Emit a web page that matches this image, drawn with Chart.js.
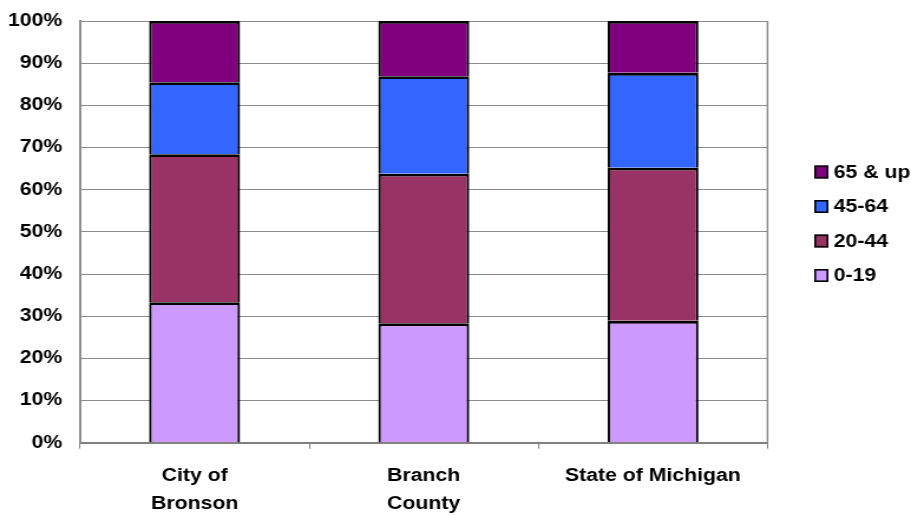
<!DOCTYPE html>
<html>
<head>
<meta charset="utf-8">
<script src="https://cdn.jsdelivr.net/npm/chart.js@4/dist/chart.umd.min.js"></script>
<style>
  html, body { margin: 0; padding: 0; background: #fff; overflow: hidden; width: 911px; height: 515px; }
  /* the chart is drawn on a 772px canvas and widened to the 911px page */
  #wrap { position: absolute; left: 0; top: 0; width: 772px; height: 515px;
          transform: scaleX(1.18005); transform-origin: 0 0; }
</style>
</head>
<body>
<div id="wrap"><canvas id="c" width="772" height="515"></canvas></div>
<script>
// Population share by age group (percent of total)
const categories = [['City of', 'Bronson'], ['Branch', 'County'], 'State of Michigan'];
const ageGroups = ['0-19', '20-44', '45-64', '65 & up'];
const age0to19 = [33.3, 28.3, 28.9];
const age20to44 = [35.1, 35.5, 36.3];
const age45to64 = [17.1, 23.1, 22.5];
const age65up = [14.5, 13.1, 12.3];
const yTickValues = [0, 10, 20, 30, 40, 50, 60, 70, 80, 90, 100];

const seriesValues = [age0to19, age20to44, age45to64, age65up];
const seriesColors = ['#CC99FF', '#993366', '#3366FF', '#800080'];

const FONT = '"Liberation Sans", Arial, Helvetica, sans-serif';
Chart.defaults.font.family = FONT;
Chart.defaults.font.weight = 'bold';
Chart.defaults.font.size = 18;
Chart.defaults.color = '#000';

// Gray frame line along the right edge of the plot area
const plotFrame = {
  id: 'plotFrame',
  beforeDatasetsDraw(chart) {
    const { ctx, chartArea: a } = chart;
    ctx.save();
    ctx.strokeStyle = '#8c8c8c';
    ctx.lineWidth = 1.5;
    ctx.beginPath();
    ctx.moveTo(a.right, a.top);
    ctx.lineTo(a.right, a.bottom);
    ctx.stroke();
    ctx.restore();
  }
};

// Legend to the right of the plot, oldest age band on top
const sideLegend = {
  id: 'sideLegend',
  afterDraw(chart, args, opts) {
    const { ctx } = chart;
    const sets = chart.data.datasets.slice().reverse();
    ctx.save();
    ctx.font = 'bold 18px ' + FONT;
    ctx.textBaseline = 'middle';
    ctx.textAlign = 'left';
    sets.forEach((ds, i) => {
      const cy = opts.top + i * opts.step;
      ctx.fillStyle = ds.backgroundColor;
      ctx.fillRect(opts.x, cy - 6.5, 12, 13);
      ctx.strokeStyle = '#000';
      ctx.lineWidth = 1.6;
      ctx.strokeRect(opts.x + 0.8, cy - 5.7, 10.4, 11.4);
      ctx.fillStyle = '#000';
      ctx.fillText(ds.label, opts.textX, cy + 1);
    });
    ctx.restore();
  }
};

new Chart(document.getElementById('c'), {
  type: 'bar',
  data: {
    labels: categories,
    datasets: ageGroups.map((name, i) => ({
      label: name,
      data: seriesValues[i],
      backgroundColor: seriesColors[i],
      borderColor: '#000',
      borderWidth: { top: 2.8, left: 2.2, right: 2.2, bottom: 0 },
      borderSkipped: false,
      inflateAmount: 0,
      categoryPercentage: 1,
      barPercentage: 0.397
    }))
  },
  options: {
    responsive: false,
    animation: false,
    events: [],
    layout: { padding: { left: 0, right: 121.6, top: 21, bottom: 0 } },
    plugins: {
      legend: { display: false },
      tooltip: { enabled: false },
      sideLegend: { x: 690, textX: 706.5, top: 172, step: 34.5 }
    },
    scales: {
      x: {
        stacked: true,
        offset: true,
        grid: { offset: true, drawOnChartArea: false, drawTicks: true, tickLength: 6, color: '#808080', lineWidth: 1 },
        border: { display: true, color: '#808080', width: 2 },
        ticks: { padding: 13, maxRotation: 0, autoSkip: false, font: { size: 18, weight: 'bold', lineHeight: 1.556 } },
        afterFit(scale) { scale.height = 72.3; }
      },
      y: {
        stacked: true,
        min: 0,
        max: 100,
        afterBuildTicks(scale) { scale.ticks = yTickValues.map(v => ({ value: v })); },
        grid: { color: '#8c8c8c', lineWidth: 1, drawTicks: true, tickLength: 11, tickColor: 'rgba(0,0,0,0)' },
        border: { display: true, color: '#8c8c8c', width: 2 },
        ticks: { padding: 4, callback: v => v + '%', font: { size: 18, weight: 'bold' } },
        afterFit(scale) { scale.width = 67.8; }
      }
    }
  },
  plugins: [plotFrame, sideLegend]
});
</script>
</body>
</html>
